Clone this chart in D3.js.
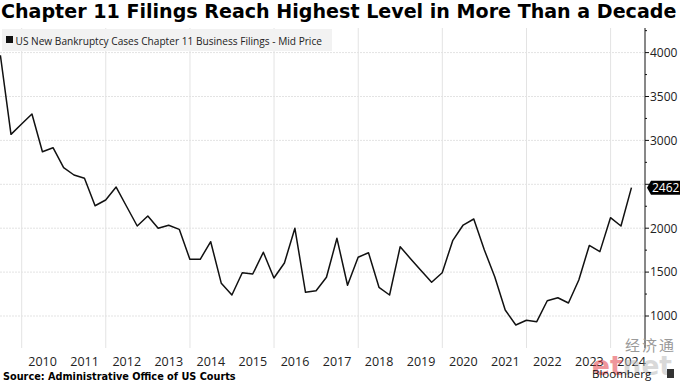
<!DOCTYPE html>
<html><head><meta charset="utf-8">
<script src="https://cdn.jsdelivr.net/npm/d3@7"></script>
<style>body{margin:0;background:#fff}svg{display:block}</style>
</head><body>
<svg id="c" width="680" height="383"></svg>
<script>
// Quarterly Chapter 11 business filings, Q2 2009 .. Q2 2024 (quarter ends)
const startQuarter = {year: 2009, q: 2};
const values = [3970,3069,3187,3300,2871,2917,2689,2606,2568,2256,2321,2469,2247,2025,2139,1999,
  2033,1987,1646,1646,1846,1372,1239,1493,1478,1726,1433,1604,1999,1270,1288,1441,1885,1350,
  1669,1721,1327,1239,1789,1653,1518,1384,1493,1858,2036,2105,1752,1448,1068,897,951,935,
  1174,1208,1148,1410,1804,1733,2120,2025,2462];
const yTicks = [1000,1500,2000,2500,3000,3500,4000];
const yTickLabels = ["1000","1500","2000","","3000","3500","4000"];
const yMinor = [1250,1750,2250,2750,3250,3750,4250];
const years = [2010,2011,2012,2013,2014,2015,2016,2017,2018,2019,2020,2021,2022,2023,2024];
const gridYears = [2010,2012,2014,2016,2018,2020,2022,2024];
const lastLabel = "2462";
const titleText = "Chapter 11 Filings Reach Highest Level in More Than a Decade";
const legendText = "US New Bankruptcy Cases Chapter 11 Business Filings - Mid Price";
const sourceText = "Source: Administrative Office of US Courts";

const data = values.map((v,i)=>{
  const qi = startQuarter.q - 1 + i;
  const yr = startQuarter.year + Math.floor(qi/4);
  const q = qi % 4;
  return {date: new Date(yr, (q+1)*3, 0), value: v};
});

const svg = d3.select("#c");
const x = d3.scaleTime().domain([new Date(2010,0,1), new Date(2024,0,1)]).range([21.7, 610.6]);
const y = d3.scaleLinear().domain([1000,4000]).range([316, 52.6]);
const axisX = 645, plotTop = 28, plotBottom = 348;

function fit(sel, w){
  const n = sel.node(); const fs = parseFloat(sel.attr("font-size"));
  const cur = n.getComputedTextLength(); sel.attr("font-size", fs*w/cur);
}

// grid
svg.append("g").selectAll("line").data(yTicks).join("line")
  .attr("x1",0).attr("x2",axisX).attr("y1",d=>y(d)).attr("y2",d=>y(d))
  .attr("stroke","#e3e3e3").attr("stroke-width",1).attr("stroke-dasharray","2,1");
svg.append("g").selectAll("line").data(gridYears).join("line")
  .attr("x1",d=>x(new Date(d,0,1))).attr("x2",d=>x(new Date(d,0,1)))
  .attr("y1",plotTop).attr("y2",plotBottom)
  .attr("stroke","#e3e3e3").attr("stroke-width",1);

// legend
svg.append("rect").attr("x",2).attr("y",29).attr("width",330).attr("height",22).attr("fill","#f2f2f2");
svg.append("rect").attr("x",6).attr("y",36).attr("width",7).attr("height",7).attr("fill","#111");
const lg = svg.append("text").attr("x",15.5).attr("y",44.5).attr("font-family","Open Sans")
  .attr("font-size",11).attr("fill","#222").text(legendText);
fit(lg, 307);

// line
const line = d3.line().x(d=>x(d.date)).y(d=>y(d.value));
svg.append("path").datum(data).attr("d",line).attr("fill","none")
  .attr("stroke","#111").attr("stroke-width",1.5).attr("stroke-linejoin","round");

// right axis
const ax = svg.append("g").attr("transform",`translate(${axisX},0)`);
ax.append("line").attr("x1",0).attr("x2",0).attr("y1",plotTop).attr("y2",plotBottom).attr("stroke","#111");
ax.selectAll(".mj").data(yTicks).join("line").attr("x1",0).attr("x2",4)
  .attr("y1",d=>y(d)).attr("y2",d=>y(d)).attr("stroke","#111");
ax.selectAll(".mn").data(yMinor).join("line").attr("x1",0).attr("x2",2)
  .attr("y1",d=>y(d)).attr("y2",d=>y(d)).attr("stroke","#111");
ax.selectAll(".lb").data(yTicks.map((d,i)=>({v:d,t:yTickLabels[i]}))).join("text")
  .attr("x",5).attr("y",d=>y(d.v)+4.3).attr("font-family","Open Sans").attr("font-size",12)
  .attr("fill","#222").text(d=>d.t);

// last value label
const lv = values[values.length-1], ly = y(lv);
svg.append("path").attr("d",`M${axisX+2},${ly} L${axisX+6},${ly-7} L680,${ly-7} L680,${ly+7} L${axisX+6},${ly+7} Z`)
  .attr("fill","#000");
svg.append("text").attr("x",652).attr("y",ly+4.3).attr("font-family","Open Sans").attr("font-size",12)
  .attr("fill","#fff").text(lastLabel);

// x labels
svg.append("g").selectAll("text").data(years).join("text")
  .attr("x",d=>x(new Date(d,6,1))).attr("y",365.5).attr("text-anchor","middle")
  .attr("font-family","Open Sans").attr("font-size",12.5).attr("fill","#222").text(d=>d);

// title
const tt = svg.append("text").attr("x",1).attr("y",18).attr("font-family","DejaVu Sans")
  .attr("font-weight","bold").attr("font-size",18).attr("fill","#000").text(titleText);
fit(tt, 676);

// source
const st = svg.append("text").attr("x",3).attr("y",380).attr("font-family","DejaVu Sans")
  .attr("font-weight","bold").attr("font-size",11).attr("fill","#000").text(sourceText);
fit(st, 233);

// watermark / branding
svg.append("text").attr("x",676).attr("y",351).attr("text-anchor","end")
  .attr("font-family","Noto Sans CJK SC").attr("font-size",15).attr("fill","#9a9a9a")
  .attr("letter-spacing",2).text("经济通");
const et = svg.append("text").attr("x",592).attr("y",375).attr("font-family","DejaVu Sans")
  .attr("font-weight","bold").attr("font-size",28).attr("opacity",0.5);
et.append("tspan").attr("fill","#e0303a").text("et");
et.append("tspan").attr("fill","#b5b5b5").text("net");
fit(et, 80);
svg.append("text").attr("x",592).attr("y",378).attr("font-family","Open Sans")
  .attr("font-size",11.5).attr("fill","#111").text("Bloomberg");
svg.append("rect").attr("x",667).attr("y",369).attr("width",7).attr("height",9).attr("fill","#333");
</script>
</body></html>
